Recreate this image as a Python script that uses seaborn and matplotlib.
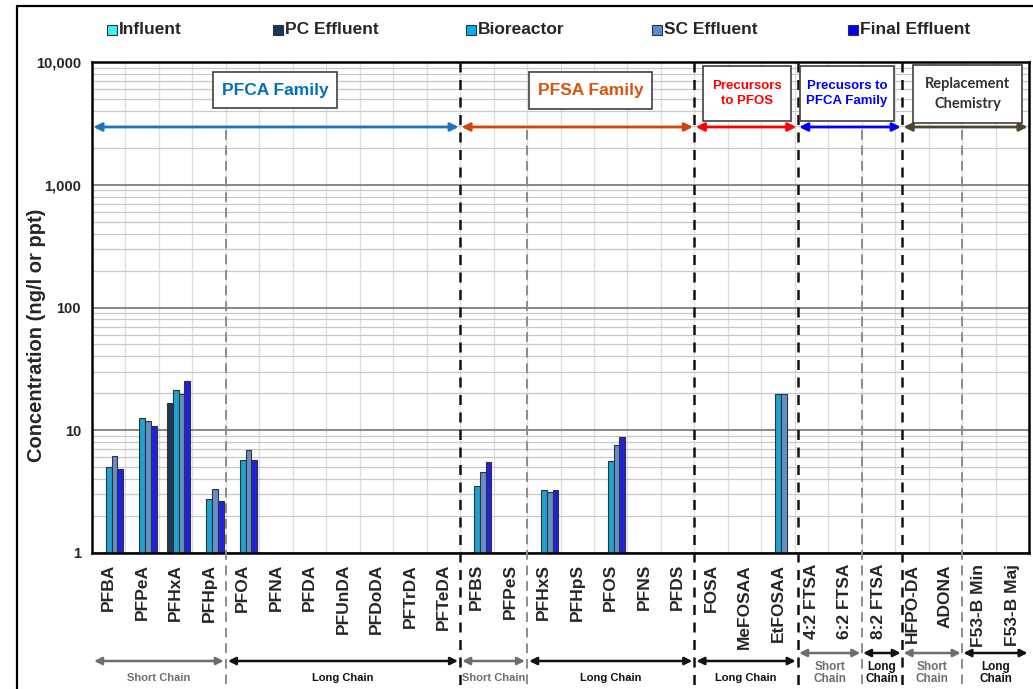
import numpy as np
import pandas as pd
import matplotlib
matplotlib.use("Agg")
import matplotlib.pyplot as plt
from matplotlib.patches import Rectangle
from matplotlib.ticker import FixedLocator, NullFormatter
import seaborn as sns

# ---------------- data ----------------
compounds = ["PFBA", "PFPeA", "PFHxA", "PFHpA", "PFOA", "PFNA", "PFDA", "PFUnDA",
             "PFDoDA", "PFTrDA", "PFTeDA", "PFBS", "PFPeS", "PFHxS", "PFHpS", "PFOS",
             "PFNS", "PFDS", "FOSA", "MeFOSAA", "EtFOSAA", "4:2 FTSA", "6:2 FTSA",
             "8:2 FTSA", "HFPO-DA", "ADONA", "F53-B Min", "F53-B Maj"]
N = None
influent = [N] * 28
pc_effluent = [N, N, 16.6, N, N, N, N, N, N, N, N, N, N, N, N, N, N, N, N, N, N, N, N, N, N, N, N, N]
bioreactor = [5.05, 12.7, 21.4, 2.75, 5.7, N, N, N, N, N, N, 3.5, N, 3.26, N, 5.6, N, N, N, N, 19.8, N, N, N, N, N, N, N]
sc_effluent = [6.2, 11.9, 19.6, 3.34, 6.9, N, N, N, N, N, N, 4.6, N, 3.12, N, 7.6, N, N, N, N, 19.8, N, N, N, N, N, N, N]
final_effluent = [4.85, 10.8, 25.3, 2.65, 5.7, N, N, N, N, N, N, 5.5, N, 3.26, N, 8.8, N, N, N, N, N, N, N, N, N, N, N, N]

stages = ["Influent", "PC Effluent", "Bioreactor", "SC Effluent", "Final Effluent"]
stage_colors = ["#3DF2F2", "#17375E", "#00B0F0", "#558ED5", "#0000FF"]
series = [influent, pc_effluent, bioreactor, sc_effluent, final_effluent]

ytick_vals = [1, 10, 100, 1000, 10000]
ytick_labels = ["1", "10", "100", "1,000", "10,000"]

rows = []
for st, vals in zip(stages, series):
    for c, v in zip(compounds, vals):
        rows.append({"compound": c, "stage": st, "value": np.nan if v is None else v})
df = pd.DataFrame(rows)

# ---------------- figure ----------------
sns.set_style("white")
plt.rcParams["font.family"] = ["Liberation Sans", "DejaVu Sans"]

W, H = 1033, 689
AX_L, AX_R, AX_T, AX_B = 92, 1029, 62, 553
fig = plt.figure(figsize=(W / 100, H / 100), dpi=100)
ax = fig.add_axes([AX_L / W, 1 - AX_B / H, (AX_R - AX_L) / W, (AX_B - AX_T) / H])

sns.barplot(data=df, x="compound", y="value", hue="stage", order=compounds,
            hue_order=stages, palette=dict(zip(stages, stage_colors)),
            width=0.87, errorbar=None, edgecolor="#333333", linewidth=0.8,
            legend=False, ax=ax, zorder=3)

ax.set_yscale("log")
ax.set_ylim(1, 10000)
ax.set_xlim(-0.5, 27.5)
ax.set_xlabel("")
ax.set_ylabel("")

ax.yaxis.set_major_locator(FixedLocator(ytick_vals))
ax.set_yticklabels(ytick_labels, fontsize=10.5, fontweight="bold")
minors = [m * d for d in [1, 10, 100, 1000] for m in range(2, 10)]
ax.yaxis.set_minor_locator(FixedLocator(minors))
ax.yaxis.set_minor_formatter(NullFormatter())
ax.set_xticks(np.arange(-0.5, 28, 1), minor=True)
ax.set_xticks(range(len(compounds)))
ax.set_xticklabels(compounds, rotation=90, fontsize=12.5, fontweight="bold")
ax.grid(which="major", axis="y", color="#7F7F7F", lw=1.3, zorder=0)
ax.grid(which="minor", axis="y", color="#C8C8C8", lw=0.9, zorder=0)
ax.grid(which="minor", axis="x", color="#DDDDDD", lw=0.9, zorder=0)
ax.set_axisbelow(True)
ax.tick_params(axis="x", which="major", length=0, pad=8)
ax.tick_params(axis="x", which="minor", length=5, width=1, direction="out", color="#333333")
ax.tick_params(axis="y", which="both", direction="in", length=5, color="#333333", pad=8)
for s in ax.spines.values():
    s.set_color("black")
    s.set_linewidth(1.8)
    s.set_zorder(5)

tr = ax.get_xaxis_transform()
CAT_W = (AX_R - AX_L) / len(compounds)

def ya(py):
    return (AX_B - py) / (AX_B - AX_T)

def px2x(px):
    return (px - AX_L) / CAT_W - 0.5

# vertical dashed separators
black_lines = [10.5, 17.5, 20.59, 23.71]
gray_lines = [3.5, 12.5, 22.5, 25.5]
for x in black_lines:
    ax.plot([x, x], [1, ya(689)], transform=tr, color="#111111", lw=1.8,
            ls=(0, (4, 3)), clip_on=False, zorder=6)
for x in gray_lines:
    ax.plot([x, x], [ya(130), ya(689)], transform=tr, color="#8C8C8C", lw=1.4,
            ls=(0, (5, 3)), clip_on=False, zorder=6)

def arrow(x0, x1, y, color, lw=1.8, ms=12, shrink=1.0):
    ax.annotate("", xy=(x1, y), xytext=(x0, y), xycoords=tr, textcoords=tr,
                arrowprops=dict(arrowstyle="<|-|>", color=color, lw=lw,
                                mutation_scale=ms, shrinkA=shrink, shrinkB=shrink),
                annotation_clip=False, zorder=7)

# top family arrows
top_y = ya(127)
arrow(-0.5, 10.5, top_y, "#1F72C0", lw=2.0)
arrow(10.5, 17.5, top_y, "#D2430F", lw=2.0)
arrow(17.5, 20.59, top_y, "#FF0000", lw=2.0)
arrow(20.59, 23.71, top_y, "#0000FF", lw=2.0)
arrow(23.71, 27.5, top_y, "#4F4630", lw=2.0)

def box(x0p, x1p, y0p, y1p, text, color, size, family=None, ls=1.2):
    x0, x1 = px2x(x0p), px2x(x1p)
    ax.add_patch(Rectangle((x0, ya(y1p)), x1 - x0, ya(y0p) - ya(y1p), transform=tr,
                           fc="white", ec="#404040", lw=1.2, clip_on=False, zorder=8))
    kw = {} if family is None else {"family": family}
    ax.text((x0 + x1) / 2, (ya(y0p) + ya(y1p)) / 2, text, transform=tr, ha="center",
            va="center", color=color, fontsize=size, fontweight="bold",
            linespacing=ls, zorder=9, **kw)

box(213, 337, 72, 108, "PFCA Family", "#0070C0", 12.5)
box(529, 652, 72, 109, "PFSA Family", "#D9540F", 12.5)
box(703, 791, 66, 121, "Precursors\nto PFOS", "#FF0000", 9.5, ls=1.25)
box(800, 894, 66, 121, "Precusors to\nPFCA Family", "#0000FF", 9.5, ls=1.25)
box(913, 1022, 65, 123, "Replacement\nChemistry", "#333333", 10.5,
    family=["Lato", "DejaVu Sans"], ls=1.5)

# bottom chain arrows and labels
GRAY = "#6E6E6E"
one_line = [(-0.5, 3.5, "Short Chain", GRAY), (3.5, 10.5, "Long Chain", "#111111"),
            (10.5, 12.5, "Short Chain", GRAY), (12.5, 17.5, "Long Chain", "#111111"),
            (17.5, 20.59, "Long Chain", "#111111")]
for x0, x1, lab, c in one_line:
    arrow(x0, x1, ya(661), c, lw=1.8, ms=11, shrink=1.5)
    ax.text((x0 + x1) / 2, ya(678), lab, transform=tr, ha="center", va="center",
            color=c, fontsize=8, fontweight="bold", clip_on=False)
two_line = [(20.59, 22.5, "Short\nChain", GRAY), (22.5, 23.71, "Long\nChain", "#111111"),
            (23.71, 25.5, "Short\nChain", GRAY), (25.5, 27.5, "Long\nChain", "#111111")]
for x0, x1, lab, c in two_line:
    arrow(x0, x1, ya(653), c, lw=1.8, ms=11, shrink=1.0)
    ax.text((x0 + x1) / 2, ya(673), lab, transform=tr, ha="center", va="center",
            color=c, fontsize=8.5, fontweight="bold", linespacing=1.1, clip_on=False)

# y label
fig.text(37 / W, 1 - 335 / H, "Concentration (ng/l or ppt)", rotation=90,
         ha="center", va="center", fontsize=14.5, fontweight="bold")

# legend (top)
leg_x = [107, 273, 466, 652, 848]
for px, st, col in zip(leg_x, stages, stage_colors):
    fig.add_artist(Rectangle((px / W, 1 - 35 / H), 10 / W, 10 / H, transform=fig.transFigure,
                             fc=col, ec="#333333", lw=0.8))
    fig.text((px + 12) / W, 1 - 30 / H, st, ha="left", va="center", fontsize=12.5,
             fontweight="bold")

# figure border (left and top)
fig.add_artist(plt.Line2D([17 / W, 17 / W], [0, 1 - 6 / H], transform=fig.transFigure,
                          color="black", lw=1.6))
fig.add_artist(plt.Line2D([17 / W, 1], [1 - 6 / H, 1 - 6 / H], transform=fig.transFigure,
                          color="black", lw=1.6))

fig.savefig("out.png", dpi=100, facecolor="white")
